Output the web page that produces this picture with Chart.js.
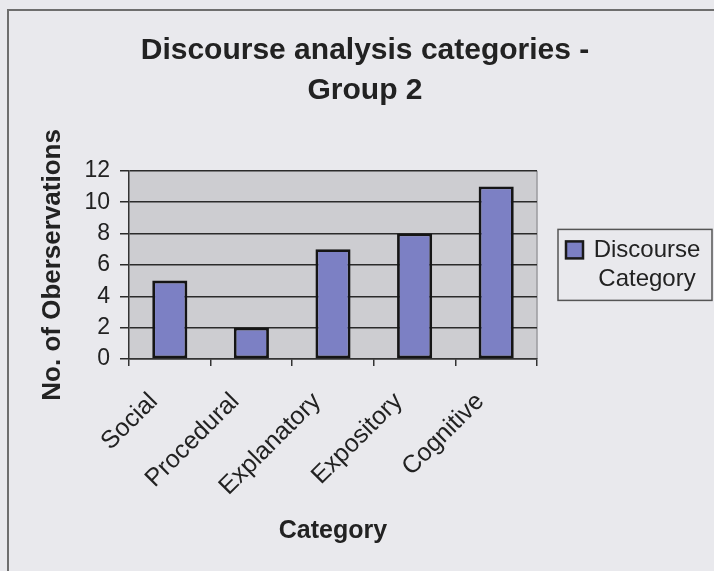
<!DOCTYPE html>
<html>
<head>
<meta charset="utf-8">
<script src="https://cdn.jsdelivr.net/npm/chart.js@4.4.0/dist/chart.umd.min.js"></script>
<style>
  html, body { margin: 0; padding: 0; background: #e9e9ed; }
  #wrap { width: 714px; height: 571px; }
</style>
</head>
<body>
<div id="wrap"><canvas id="discourseChart" width="714" height="571"></canvas></div>
<script>
// data
var categories   = ['Social', 'Procedural', 'Explanatory', 'Expository', 'Cognitive']
var observations = [5, 2, 7, 8, 11]
var yTicks       = [0, 2, 4, 6, 8, 10, 12]
var seriesName   = ['Discourse', 'Category']   // legend text, two lines
var chartTitle   = ['Discourse analysis categories -', 'Group 2']

var FONT = "'Liberation Sans', Arial, sans-serif"
Chart.defaults.color = '#222'
Chart.defaults.font.family = FONT

// page background, outer frame and grey plot area
var framePlugin = {
  id: 'frame',
  beforeDraw: function (chart) {
    var ctx = chart.ctx, a = chart.chartArea
    ctx.save()
    ctx.fillStyle = '#e9e9ed'
    ctx.fillRect(0, 0, chart.width, chart.height)
    ctx.strokeStyle = '#6e6e6e'
    ctx.lineWidth = 2
    ctx.strokeRect(8, 10, chart.width + 20, chart.height + 20)
    ctx.fillStyle = '#cdcdd1'
    ctx.fillRect(a.left, a.top, a.right - a.left, a.bottom - a.top)
    ctx.strokeStyle = '#9a9a9e'
    ctx.lineWidth = 1.5
    ctx.beginPath()
    ctx.moveTo(a.right, a.bottom)
    ctx.lineTo(a.right, a.top)
    ctx.stroke()
    ctx.restore()
  }
}

// Excel style legend box on the right, label centred over two lines
var sideLegend = {
  id: 'sideLegend',
  afterDraw: function (chart) {
    var ctx = chart.ctx, a = chart.chartArea
    var ds = chart.data.datasets[0]
    var lines = seriesName
    var x = a.right + 21, w = 154, h = 71
    var y = (a.top + a.bottom) / 2 - h / 2
    ctx.save()
    ctx.strokeStyle = '#555'
    ctx.lineWidth = 1.5
    ctx.strokeRect(x, y, w, h)
    // swatch
    ctx.fillStyle = ds.backgroundColor
    ctx.fillRect(x + 8, y + 12, 17, 17)
    ctx.strokeStyle = '#1a1a1a'
    ctx.lineWidth = 2.5
    ctx.strokeRect(x + 8, y + 12, 17, 17)
    ctx.fillStyle = '#222'
    ctx.font = '24px ' + FONT
    ctx.textAlign = 'center'
    ctx.textBaseline = 'alphabetic'
    var cx = x + 89
    ctx.fillText(lines[0], cx, y + 28)
    ctx.fillText(lines[1], cx, y + 57)
    ctx.restore()
  }
}

var ctx = document.getElementById('discourseChart').getContext('2d')
var discourseChart = new Chart(ctx, {
  type: 'bar',
  data: {
    labels: categories,
    datasets: [{
      label: seriesName.join(' '),
      data: observations,
      backgroundColor: '#7c80c4',
      borderColor: '#151515',
      borderWidth: 2.8,
      borderSkipped: false,
      categoryPercentage: 1,
      barPercentage: 0.43
    }]
  },
  options: {
    responsive: false,
    animation: false,
    layout: { padding: { left: 16, top: 10, right: 0, bottom: 0 } },
    plugins: {
      legend: { display: false },
      tooltip: { enabled: false },
      title: {
        display: true,
        text: chartTitle,
        font: { size: 30, weight: 'bold', lineHeight: 1.33 },
        color: '#222',
        padding: { top: 21, bottom: 60 }
      }
    },
    scales: {
      x: {
        grid: { drawOnChartArea: false, drawTicks: true, tickLength: 7, color: '#333', lineWidth: 1.5, offset: true },
        border: { color: '#333', width: 1.5 },
        ticks: { font: { size: 25 }, color: '#222', minRotation: 45, maxRotation: 45, padding: 21, labelOffset: -16, autoSkip: false },
        title: { display: true, text: 'Category', font: { size: 25, weight: 'bold', lineHeight: 1.2 }, color: '#222', padding: { top: 0, bottom: 25 } },
        afterFit: function (s) { s.height = 212 }
      },
      y: {
        min: yTicks[0],
        max: yTicks[yTicks.length - 1],
        grid: { color: '#2a2a2a', lineWidth: 1.5, tickLength: 9 },
        border: { color: '#333', width: 1.5 },
        ticks: { stepSize: yTicks[1] - yTicks[0], font: { size: 23 }, color: '#222', padding: 10 },
        title: { display: true, text: 'No. of Oberservations', font: { size: 26, weight: 'bold', lineHeight: 1.2 }, color: '#222', padding: { top: 21, bottom: 0 } },
        afterFit: function (s) { s.width = 113 }
      },
      // empty scale on the right, only keeps room for the legend box
      spacer: {
        type: 'linear',
        position: 'right',
        display: true,
        grid: { display: false },
        border: { display: false },
        ticks: { display: false },
        afterFit: function (s) { s.width = 177 }
      }
    }
  },
  plugins: [framePlugin, sideLegend]
})
</script>
</body>
</html>
